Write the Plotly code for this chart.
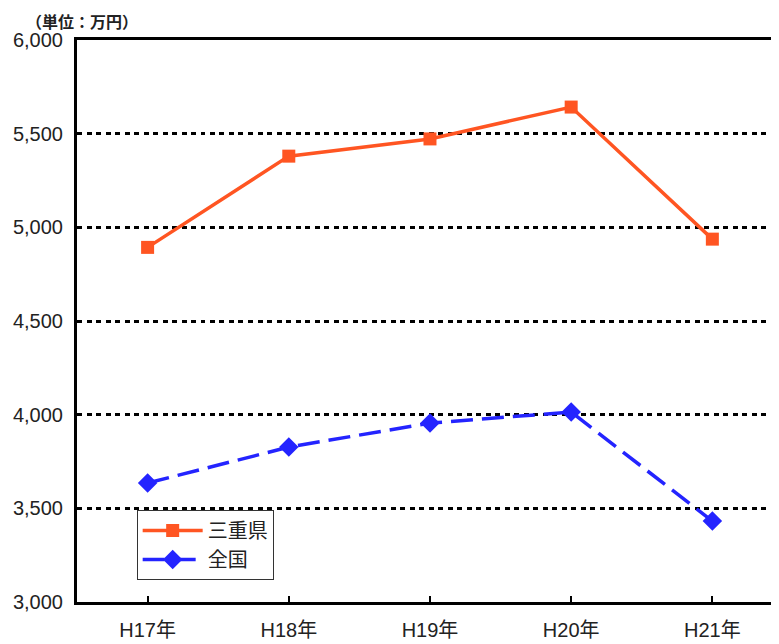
import plotly.graph_objects as go

categories = ["H17年", "H18年", "H19年", "H20年", "H21年"]
mie_values = [4893, 5380, 5472, 5642, 4937]
zenkoku_values = [3635, 3827, 3955, 4014, 3432]
y_ticks = [3000, 3500, 4000, 4500, 5000, 5500, 6000]
y_tick_labels = ["3,000", "3,500", "4,000", "4,500", "5,000", "5,500", "6,000"]

FONT = "Liberation Sans, Arial, Noto Sans CJK JP, sans-serif"

fig = go.Figure()
fig.add_trace(go.Scatter(
    x=list(range(len(categories))), y=mie_values, name="三重県",
    mode="lines+markers",
    line=dict(color="#FF5522", width=3.5),
    marker=dict(symbol="square", size=13, color="#FF5522"),
))
fig.add_trace(go.Scatter(
    x=list(range(len(categories))), y=zenkoku_values, name="全国",
    mode="lines+markers",
    line=dict(color="#2424FF", width=3.5, dash="22px,9px"),
    marker=dict(symbol="diamond", size=15, color="#2424FF"),
))

fig.update_layout(
    width=771, height=636,
    margin=dict(l=69, r=0, t=32, b=42, autoexpand=False),
    paper_bgcolor="white", plot_bgcolor="white",
    font=dict(family=FONT, size=19, color="#222222"),
    legend=dict(
        x=0.085, y=0.039, xanchor="left", yanchor="bottom",
        bordercolor="#333333", borderwidth=1, bgcolor="white",
        font=dict(size=20, family="Noto Sans CJK JP, sans-serif", color="#222222"),
        tracegroupgap=0, itemwidth=60,
    ),
    annotations=[dict(
        text="<b>（単位：万円）</b>", xref="paper", yref="paper",
        x=-0.074, y=1.057, xanchor="left", yanchor="top", showarrow=False,
        borderpad=0,
        font=dict(size=16, family="Noto Sans CJK JP, sans-serif", color="#222222"),
    )],
    showlegend=True,
)

fig.update_xaxes(
    range=[-0.5, 4.472], automargin=False,
    tickmode="array", tickvals=list(range(len(categories))), ticktext=categories,
    tickson="boundaries", ticks="inside", ticklen=6, tickwidth=1.5, tickcolor="black",
    showline=True, linecolor="black", linewidth=3, mirror=True,
    showgrid=False, zeroline=False,
    tickfont=dict(size=20, family=FONT, color="#222222"),
    ticklabelstandoff=8,
)
fig.update_yaxes(
    range=[3000, 6000], automargin=False,
    tickmode="array", tickvals=y_ticks, ticktext=y_tick_labels,
    ticks="", showline=True, linecolor="black", linewidth=3, mirror=False,
    showgrid=True, gridcolor="black", gridwidth=2.5, griddash="5px,4.5px",
    zeroline=False,
    tickfont=dict(size=20, family=FONT, color="#222222"),
    ticklabelstandoff=7,
)

fig.write_html("out.html")
